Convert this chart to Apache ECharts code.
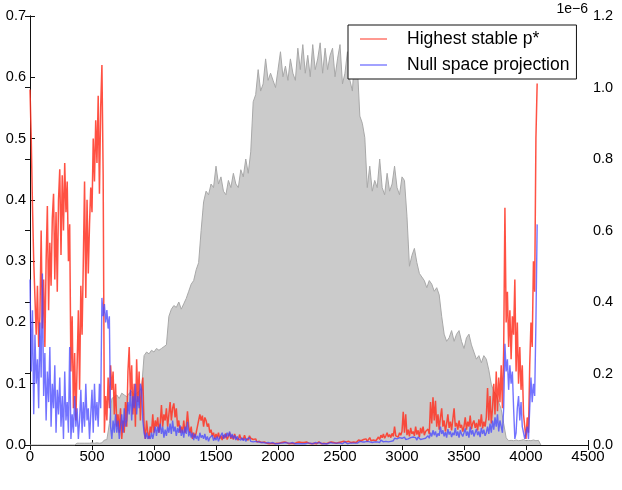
<!DOCTYPE html>
<html>
<head>
<meta charset="utf-8">
<script src="https://cdn.jsdelivr.net/npm/echarts@6/dist/echarts.min.js"></script>
<style>
html,body{margin:0;padding:0;background:#fff}
#chart{width:622px;height:490px}
</style>
</head>
<body>
<div id="chart"></div>
<script>
// sample spacing along x for the two signals and for the grey envelope
var lineStep = 10
var areaStep = 20

// Highest stable p* (left axis), one value every 10 units from 0
var highestStable = [
  0.58,0.50,0.39,0.30,0.24,0.18,0.26,0.16,0.21,0.35,
  0.19,0.27,0.16,0.30,0.39,0.22,0.33,0.26,0.37,0.41,
  0.27,0.38,0.25,0.40,0.45,0.31,0.44,0.35,0.46,0.38,
  0.43,0.30,0.36,0.12,0.21,0.06,0.15,0.04,0.13,0.22,
  0.09,0.26,0.18,0.30,0.43,0.24,0.40,0.28,0.36,0.42,
  0.38,0.50,0.43,0.53,0.46,0.57,0.41,0.55,0.62,0.44,
  0.02,0.08,0.04,0.11,0.06,0.13,0.09,0.12,0.05,0.10,
  0.03,0.05,0.02,0.06,0.01,0.04,0.02,0.07,0.03,0.12,
  0.16,0.08,0.13,0.05,0.10,0.03,0.14,0.07,0.12,0.04,
  0.09,0.11,0.03,0.01,0.04,0.02,0.01,0.03,0.02,0.05,
  0.02,0.04,0.03,0.045,0.02,0.035,0.065,0.03,0.05,0.04,
  0.06,0.03,0.05,0.07,0.04,0.06,0.068,0.045,0.06,0.03,
  0.04,0.02,0.03,0.02,0.04,0.02,0.03,0.055,0.03,0.02,
  0.03,0.01,0.02,0.012,0.02,0.03,0.04,0.05,0.04,0.048,
  0.03,0.045,0.04,0.03,0.035,0.02,0.025,0.015,0.02,0.01,
  0.018,0.012,0.02,0.01,0.015,0.008,0.016,0.011,0.019,0.009,
  0.014,0.02,0.01,0.016,0.009,0.018,0.012,0.015,0.008,0.017,
  0.011,0.014,0.009,0.016,0.01,0.013,0.008,0.015,0.011,0.012,
  0.009,0.006,0.01,0.005,0.008,0.006,0.009,0.004,0.007,0.005,
  0.004,0.003,0.005,0.002,0.004,0.003,0.005,0.002,0.004,0.003,
  0.005,0.003,0.002,0.004,0.003,0.005,0.002,0.004,0.003,0.002,
  0.004,0.003,0.005,0.002,0.003,0.004,0.002,0.005,0.003,0.004,
  0.002,0.004,0.003,0.005,0.002,0.003,0.004,0.002,0.005,0.003,
  0.004,0.002,0.003,0.005,0.003,0.002,0.004,0.003,0.005,0.002,
  0.003,0.004,0.002,0.005,0.003,0.004,0.002,0.003,0.005,0.004,
  0.003,0.005,0.004,0.006,0.003,0.005,0.004,0.006,0.005,0.004,
  0.006,0.005,0.007,0.004,0.006,0.008,0.005,0.007,0.006,0.009,
  0.007,0.01,0.006,0.009,0.012,0.007,0.01,0.008,0.011,0.007,
  0.01,0.013,0.009,0.016,0.012,0.018,0.011,0.015,0.02,0.013,
  0.017,0.012,0.019,0.014,0.03,0.015,0.018,0.013,0.02,0.016,
  0.022,0.054,0.02,0.05,0.016,0.025,0.014,0.028,0.018,0.022,
  0.015,0.03,0.017,0.024,0.013,0.028,0.019,0.03,0.016,0.022,
  0.02,0.026,0.018,0.07,0.035,0.078,0.04,0.072,0.03,0.05,
  0.025,0.045,0.06,0.03,0.04,0.022,0.035,0.05,0.028,0.038,
  0.024,0.042,0.06,0.03,0.036,0.025,0.04,0.028,0.033,0.022,
  0.03,0.045,0.025,0.038,0.03,0.048,0.026,0.035,0.04,0.028,
  0.036,0.024,0.042,0.03,0.05,0.027,0.038,0.03,0.045,0.093,
  0.04,0.08,0.035,0.06,0.1,0.05,0.12,0.055,0.11,0.07,
  0.13,0.06,0.155,0.387,0.2,0.25,0.16,0.22,0.14,0.21,
  0.18,0.27,0.12,0.2,0.1,0.16,0.09,0.13,0.05,0.03,
  0.01,0.045,0.02,0.13,0.2,0.16,0.3,0.25,0.5,0.59
]

// Null space projection (left axis), same sampling
var nullSpace = [
  0.27,0.12,0.22,0.05,0.18,0.10,0.14,0.06,0.20,0.11,
  0.28,0.08,0.15,0.04,0.12,0.07,0.16,0.03,0.10,0.06,
  0.13,0.02,0.09,0.05,0.11,0.03,0.08,0.01,0.12,0.04,
  0.07,0.02,0.16,0.01,0.05,0.02,0.08,0.03,0.06,0.01,
  0.04,0.09,0.02,0.07,0.03,0.10,0.04,0.06,0.01,0.05,
  0.09,0.02,0.10,0.04,0.07,0.03,0.10,0.06,0.24,0.21,
  0.23,0.20,0.22,0.19,0.21,0.03,0.01,0.04,0.02,0.05,
  0.02,0.04,0.01,0.03,0.05,0.02,0.06,0.03,0.04,0.07,
  0.05,0.09,0.04,0.08,0.06,0.10,0.05,0.08,0.06,0.10,
  0.09,0.04,0.02,0.01,0.02,0.01,0.015,0.01,0.02,0.01,
  0.02,0.03,0.015,0.03,0.02,0.035,0.018,0.03,0.012,0.025,
  0.015,0.03,0.02,0.035,0.018,0.04,0.022,0.03,0.015,0.028,
  0.02,0.032,0.015,0.025,0.012,0.03,0.018,0.038,0.014,0.022,
  0.012,0.02,0.008,0.018,0.01,0.015,0.007,0.02,0.012,0.016,
  0.01,0.018,0.008,0.014,0.006,0.012,0.009,0.016,0.007,0.012,
  0.008,0.014,0.006,0.012,0.009,0.02,0.01,0.018,0.012,0.02,
  0.014,0.022,0.012,0.018,0.01,0.016,0.008,0.014,0.01,0.013,
  0.008,0.012,0.007,0.011,0.006,0.01,0.008,0.012,0.006,0.009,
  0.005,0.004,0.006,0.003,0.005,0.003,0.004,0.002,0.004,0.003,
  0.003,0.002,0.004,0.002,0.003,0.002,0.004,0.003,0.002,0.003,
  0.002,0.004,0.003,0.002,0.003,0.002,0.004,0.002,0.003,0.002,
  0.003,0.002,0.004,0.003,0.002,0.003,0.002,0.004,0.002,0.003,
  0.002,0.003,0.002,0.004,0.003,0.002,0.003,0.004,0.002,0.003,
  0.004,0.002,0.003,0.002,0.004,0.003,0.002,0.003,0.002,0.004,
  0.002,0.003,0.004,0.002,0.003,0.002,0.003,0.004,0.003,0.002,
  0.003,0.004,0.002,0.003,0.005,0.003,0.002,0.004,0.003,0.004,
  0.003,0.004,0.003,0.005,0.003,0.004,0.006,0.003,0.005,0.004,
  0.005,0.003,0.006,0.004,0.005,0.007,0.004,0.006,0.005,0.007,
  0.005,0.007,0.004,0.008,0.006,0.005,0.008,0.006,0.007,0.005,
  0.008,0.006,0.009,0.007,0.011,0.008,0.01,0.007,0.012,0.009,
  0.011,0.008,0.013,0.009,0.012,0.01,0.008,0.012,0.009,0.013,
  0.01,0.012,0.008,0.013,0.011,0.009,0.012,0.01,0.013,0.011,
  0.012,0.015,0.011,0.02,0.014,0.024,0.016,0.022,0.013,0.019,
  0.015,0.03,0.018,0.024,0.014,0.021,0.012,0.026,0.017,0.022,
  0.013,0.02,0.016,0.028,0.015,0.022,0.012,0.024,0.018,0.014,
  0.02,0.027,0.015,0.022,0.012,0.03,0.017,0.024,0.014,0.02,
  0.026,0.016,0.022,0.013,0.028,0.018,0.025,0.015,0.02,0.03,
  0.018,0.035,0.02,0.04,0.025,0.045,0.03,0.05,0.022,0.04,
  0.03,0.02,0.06,0.165,0.12,0.14,0.09,0.13,0.1,0.12,
  0.06,0.01,0.02,0.06,0.08,0.04,0.07,0.03,0.02,0.01,
  0.02,0.03,0.01,0.06,0.11,0.07,0.1,0.08,0.2,0.36
]

// grey envelope (right axis, x1e-6), one value every 20 units from 0
var envelope = [
  0,0,0,0,0,0,0,0,0,0,
  0,0,0,0,0,0,0,0,0,0.005,
  0.005,0.005,0.005,0.005,0.005,0.006,0.005,0.006,0.005,0.006,
  0.014,0.015,0.06,0.13,0.135,0.14,0.13,0.145,0.14,0.135,
  0.145,0.15,0.14,0.145,0.15,0.16,0.25,0.26,0.255,0.265,
  0.26,0.27,0.265,0.27,0.275,0.28,0.36,0.38,0.39,0.385,
  0.40,0.38,0.395,0.41,0.43,0.45,0.46,0.49,0.51,0.60,
  0.68,0.71,0.70,0.73,0.72,0.78,0.73,0.75,0.71,0.70,
  0.74,0.72,0.76,0.73,0.72,0.77,0.75,0.80,0.76,0.82,
  0.96,0.98,1.05,0.99,1.01,1.08,1.02,1.04,1.02,1.00,
  1.05,1.10,1.03,1.06,1.02,1.08,1.04,1.02,1.11,1.05,
  1.12,1.04,1.09,1.03,1.12,1.05,1.08,1.125,1.04,1.11,
  1.05,1.09,1.11,1.03,1.08,1.12,1.01,1.04,1.10,1.02,
  0.99,1.10,1.06,0.92,0.90,0.86,0.72,0.78,0.71,0.74,
  0.72,0.80,0.72,0.70,0.76,0.71,0.73,0.78,0.72,0.70,
  0.75,0.74,0.64,0.50,0.53,0.55,0.51,0.48,0.47,0.46,
  0.44,0.46,0.45,0.43,0.44,0.42,0.36,0.31,0.29,0.30,
  0.32,0.29,0.31,0.32,0.29,0.27,0.30,0.31,0.28,0.26,
  0.24,0.25,0.23,0.25,0.24,0.21,0.17,0.15,0.14,0.12,
  0.10,0.06,0.02,0.012,0.013,0.012,0.014,0.012,0.013,0.015,
  0.012,0.013,0.012,0.014,0.012,0.013,0
]

function toPairs(arr, step) {
  return arr.map(function (v, i) { return [i * step, v] })
}

var font = 'Liberation Sans, Arial, sans-serif'
var axisColor = '#111'

function xAxisBase(pos) {
  return {
    type: 'value', min: 0, max: 4500, interval: 500, position: pos,
    axisLine: { show: true, lineStyle: { color: axisColor, width: 1 } },
    axisTick: { show: true, inside: true, length: 5, lineStyle: { color: axisColor } },
    axisLabel: {
      show: pos === 'bottom', color: '#000', fontSize: 15, fontFamily: font, margin: 4,
      showMinLabel: true, showMaxLabel: true,
      formatter: function (v) { return String(v) }
    },
    splitLine: { show: false }
  }
}

var chart = echarts.init(document.getElementById('chart'))
chart.setOption({
  animation: false,
  backgroundColor: '#fff',
  grid: { left: 30, right: 34, top: 16, bottom: 45, containLabel: false, outerBoundsMode: 'none' },
  legend: {
    orient: 'vertical', left: 348, top: 25,
    backgroundColor: '#fff', borderColor: '#111', borderWidth: 1,
    padding: [5, 7, 5, 12], itemGap: 8, itemWidth: 27, itemHeight: 1,
    icon: 'rect',
    textStyle: { fontSize: 17.5, fontFamily: font, color: '#000', padding: [0, 0, 0, 15] },
    data: ['Highest stable p*', 'Null space projection']
  },
  graphic: [{
    type: 'text', right: 34, top: 2,
    style: { text: '1e\u22126', fontSize: 14, fontFamily: font, fill: '#000' }
  }],
  xAxis: [xAxisBase('bottom'), xAxisBase('top')],
  yAxis: [
    {
      type: 'value', min: 0, max: 0.7, interval: 0.1, position: 'left',
      axisLine: { show: true, lineStyle: { color: axisColor, width: 1 } },
      axisTick: { show: true, inside: true, length: 5, lineStyle: { color: axisColor } },
      axisLabel: { color: '#000', fontSize: 14.5, fontFamily: font, margin: 4, formatter: function (v) { return v.toFixed(1) } },
      splitLine: { show: false }
    },
    {
      type: 'value', min: 0, max: 1.2, interval: 0.2, position: 'right',
      axisLine: { show: true, lineStyle: { color: axisColor, width: 1 } },
      axisTick: { show: true, inside: true, length: 5, lineStyle: { color: axisColor } },
      axisLabel: { color: '#000', fontSize: 14.5, fontFamily: font, margin: 5, formatter: function (v) { return v.toFixed(1) } },
      splitLine: { show: false }
    }
  ],
  series: [
    {
      type: 'line', yAxisIndex: 1, z: 1, silent: true,
      data: toPairs(envelope, areaStep),
      symbol: 'none',
      lineStyle: { color: '#a8a8a8', width: 1 },
      areaStyle: { color: '#cbcbcb', opacity: 1 }
    },
    {
      name: 'Highest stable p*', type: 'line', z: 2,
      data: toPairs(highestStable, lineStep),
      symbol: 'none',
      itemStyle: { color: '#ff3322' },
      lineStyle: { color: '#ff3322', width: 1.5, opacity: 0.85 }
    },
    {
      name: 'Null space projection', type: 'line', z: 3,
      data: toPairs(nullSpace, lineStep),
      symbol: 'none',
      itemStyle: { color: '#4444ff' },
      lineStyle: { color: '#4444ff', width: 1.4, opacity: 0.75 }
    }
  ]
})
</script>
</body>
</html>
